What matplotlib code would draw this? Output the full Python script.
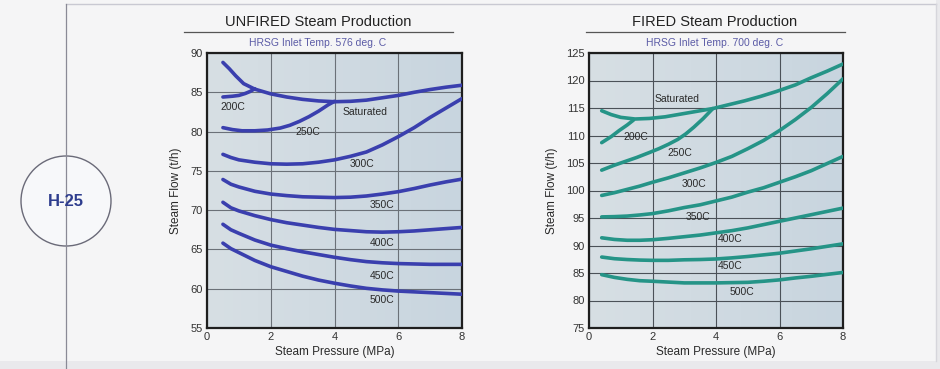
import matplotlib
matplotlib.use("Agg")
import matplotlib.pyplot as plt
import numpy as np
from matplotlib.patches import Circle, Rectangle
from matplotlib.lines import Line2D
from matplotlib.colors import LinearSegmentedColormap

# ---- data: steam flow (t/h) vs steam pressure (MPa) ----
p_u = [0.5, 0.75, 1, 1.5, 2, 2.5, 3, 3.5, 4, 4.5, 5, 5.5, 6, 6.5, 7, 7.5, 8]
p_f = [0.4, 0.8, 1.2, 1.6, 2.0, 2.5, 3.0, 3.5, 4.0, 4.5, 5.0, 5.5, 6.0, 6.5, 7.0, 7.5, 8.0]

unfired = {
    "Saturated": ([0.5, 0.7, 0.9, 1.15, 1.5, 2, 2.5, 3, 3.5, 4, 4.5, 5, 5.5, 6, 6.5, 7, 7.5, 8],
                  [88.8, 88.0, 87.1, 86.1, 85.4, 84.8, 84.4, 84.1, 83.9, 83.8, 83.85, 84.0, 84.3, 84.6, 85.0, 85.35, 85.65, 85.9]),
    "200C": ([0.5, 0.8, 1.0, 1.2, 1.35, 1.5],
             [84.4, 84.5, 84.6, 84.85, 85.1, 85.45]),
    "250C": ([0.5, 0.8, 1.1, 1.5, 1.9, 2.3, 2.6, 2.9, 3.2, 3.5, 3.8, 4.0],
             [80.5, 80.25, 80.1, 80.1, 80.2, 80.45, 80.8, 81.3, 81.9, 82.6, 83.4, 83.85]),
    "300C": (p_u, [77.1, 76.7, 76.4, 76.1, 75.9, 75.85, 75.9, 76.1, 76.4, 76.85, 77.4, 78.3, 79.35, 80.5, 81.8, 83.0, 84.2]),
    "350C": (p_u, [73.9, 73.3, 72.95, 72.4, 72.05, 71.85, 71.7, 71.65, 71.6, 71.65, 71.8, 72.05, 72.35, 72.75, 73.2, 73.6, 73.95]),
    "400C": (p_u, [71.0, 70.3, 69.9, 69.3, 68.8, 68.4, 68.1, 67.8, 67.55, 67.4, 67.25, 67.2, 67.25, 67.35, 67.5, 67.65, 67.8]),
    "450C": (p_u, [68.2, 67.5, 67.05, 66.2, 65.55, 65.1, 64.7, 64.35, 64.0, 63.7, 63.45, 63.3, 63.2, 63.15, 63.1, 63.1, 63.1]),
    "500C": (p_u, [65.8, 65.1, 64.6, 63.6, 62.8, 62.2, 61.6, 61.1, 60.7, 60.35, 60.05, 59.85, 59.7, 59.6, 59.5, 59.4, 59.3]),
}

fired = {
    "Saturated": ([0.4, 0.7, 1.0, 1.45, 1.9, 2.4, 2.8, 3.3, 3.9, 4.4, 4.9, 5.4, 5.9, 6.5, 7.0, 7.5, 8.0],
                  [114.5, 113.8, 113.3, 113.0, 113.1, 113.4, 113.8, 114.3, 114.9, 115.6, 116.3, 117.1, 118.0, 119.2, 120.5, 121.7, 123.0]),
    "200C": ([0.4, 0.7, 0.95, 1.2, 1.4],
             [108.7, 109.8, 110.9, 111.9, 112.8]),
    "250C": ([0.4, 0.8, 1.15, 1.5, 1.9, 2.2, 2.5, 2.8, 3.05, 3.3, 3.6, 3.9],
             [103.7, 104.6, 105.3, 106.0, 106.9, 107.6, 108.4, 109.3, 110.3, 111.5, 113.1, 114.9]),
    "300C": (p_f, [99.1, 99.6, 100.2, 100.8, 101.5, 102.3, 103.2, 104.1, 105.1, 106.2, 107.6, 109.1, 110.9, 112.9, 115.1, 117.6, 120.3]),
    "350C": (p_f, [95.2, 95.25, 95.35, 95.55, 95.8, 96.3, 96.9, 97.4, 98.1, 98.8, 99.7, 100.5, 101.5, 102.5, 103.6, 104.9, 106.2]),
    "400C": (p_f, [91.4, 91.1, 90.95, 90.95, 91.05, 91.3, 91.6, 91.9, 92.3, 92.7, 93.2, 93.8, 94.4, 95.0, 95.6, 96.2, 96.8]),
    "450C": (p_f, [87.9, 87.6, 87.45, 87.35, 87.3, 87.3, 87.4, 87.45, 87.55, 87.75, 88.0, 88.3, 88.6, 89.0, 89.4, 89.85, 90.3]),
    "500C": (p_f, [84.7, 84.2, 83.85, 83.6, 83.5, 83.35, 83.2, 83.2, 83.2, 83.25, 83.3, 83.5, 83.75, 84.1, 84.4, 84.75, 85.1]),
}

unfired_labels = {
    "200C": (0.82, 83.1), "Saturated": (4.95, 82.5), "250C": (3.15, 79.9),
    "300C": (4.85, 75.9), "350C": (5.5, 70.7), "400C": (5.5, 65.8),
    "450C": (5.5, 61.6), "500C": (5.5, 58.6),
}
fired_labels = {
    "Saturated": (2.77, 116.6), "200C": (1.47, 109.8), "250C": (2.85, 106.8),
    "300C": (3.3, 101.2), "350C": (3.43, 95.2), "400C": (4.43, 91.1),
    "450C": (4.43, 86.2), "500C": (4.82, 81.5),
}

x_ticks = [0, 2, 4, 6, 8]
unfired_yticks = [55, 60, 65, 70, 75, 80, 85, 90]
fired_yticks = [75, 80, 85, 90, 95, 100, 105, 110, 115, 120, 125]

# ---- figure ----
plt.rcParams["font.family"] = ["Liberation Sans", "DejaVu Sans"]

W, H = 940, 369
fig = plt.figure(figsize=(W / 100, H / 100), dpi=100)
fig.patch.set_facecolor("#e9e9ec")

# page panel drawn in pixel coordinates
panel = fig.add_axes([0, 0, 1, 1])
panel.set_xlim(0, W)
panel.set_ylim(H, 0)
panel.axis("off")
panel.add_patch(Rectangle((0, 0), 936, 361, facecolor="#f5f5f6", edgecolor="none"))
panel.add_line(Line2D([66, 936], [4, 4], color="#c9c9d2", lw=1))
panel.add_line(Line2D([936, 936], [4, 361], color="#d6d6dc", lw=1))
panel.add_line(Line2D([66, 66], [4, 369], color="#8a8a96", lw=0.9))
panel.add_patch(Circle((66, 201), 45, facecolor="#f7f8fa", edgecolor="#6a6a78", lw=1.0))
panel.text(66, 201, "H-25", ha="center", va="center", fontsize=12,
           fontweight="bold", color="#2e3d8e")

bg_cmap = LinearSegmentedColormap.from_list("bg", ["#d7dfe4", "#c8d5df"])


def draw_chart(rect, curves, labels, yticks, color, grid_color,
               title, subtitle, title_x, line_x):
    ax = fig.add_axes(rect)
    ax.set_xlim(0, 8)
    ax.set_ylim(yticks[0], yticks[-1])
    grad = np.linspace(0, 1, 256).reshape(1, -1)
    ax.imshow(grad, extent=[0, 8, yticks[0], yticks[-1]], aspect="auto",
              cmap=bg_cmap, zorder=0)
    ax.set_xticks(x_ticks)
    ax.set_yticks(yticks)
    ax.grid(True, color=grid_color, lw=0.8, zorder=1)
    ax.tick_params(length=0, labelsize=8, pad=3, colors="#333333")
    for s in ax.spines.values():
        s.set_linewidth(1.6)
        s.set_color("#1e1e1e")
    for name, (xs, ys) in curves.items():
        ax.plot(xs, ys, color=color, lw=2.6, solid_capstyle="round",
                solid_joinstyle="round", zorder=3)
    for name, (lx, ly) in labels.items():
        ax.text(lx, ly, name, ha="center", va="center", fontsize=7.5,
                color="#2a2a2a", zorder=4)
    ax.set_xlabel("Steam Pressure (MPa)", fontsize=8.5, labelpad=3, color="#2a2a2a")
    ax.set_ylabel("Steam Flow (t/h)", fontsize=8.5, labelpad=6, color="#2a2a2a")
    panel.text(title_x, 22, title, ha="center", va="center", fontsize=10.5, color="#222222")
    panel.add_line(Line2D(line_x, [32, 32], color="#555555", lw=0.9))
    panel.text(title_x, 43, subtitle, ha="center", va="center", fontsize=7.5, color="#5b5ba6")
    return ax


draw_chart([207 / W, 1 - 328 / H, 255 / W, 275 / H], unfired, unfired_labels,
           unfired_yticks, "#3a3fae", "#6b7178", "UNFIRED Steam Production",
           "HRSG Inlet Temp. 576 deg. C", 318, [184, 453])
draw_chart([589 / W, 1 - 328 / H, 254 / W, 275 / H], fired, fired_labels,
           fired_yticks, "#259487", "#4b5158", "FIRED Steam Production",
           "HRSG Inlet Temp. 700 deg. C", 715, [586, 845])

fig.savefig("out.png", dpi=100, facecolor=fig.get_facecolor())
